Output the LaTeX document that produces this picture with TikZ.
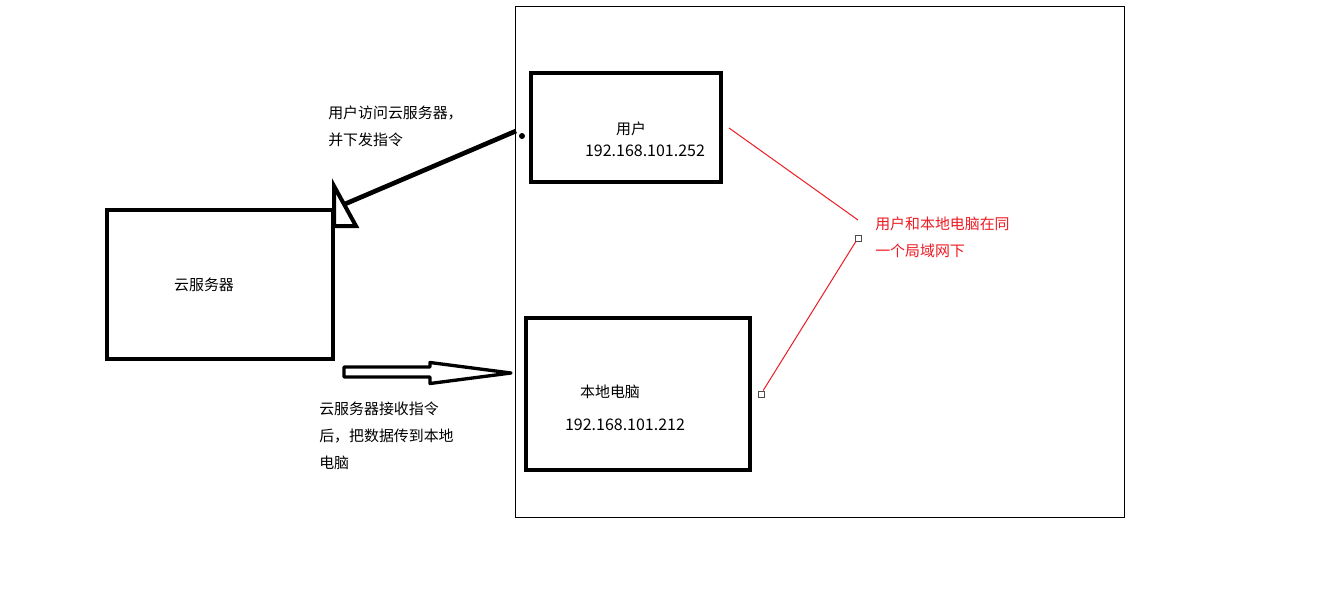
\documentclass[tikz,border=0pt]{standalone}
\usepackage{fontspec}
\setmainfont{Noto Sans CJK SC}
\definecolor{lred}{RGB}{237,28,36}
\begin{document}
\begin{tikzpicture}[x=0.75pt,y=-0.75pt,
  thickbox/.style={draw=black,line width=3pt},
  lbl/.style={inner sep=0pt,font=\fontsize{11.2pt}{20.25pt}\selectfont},
  ip/.style={inner sep=0pt,font=\fontsize{12pt}{14pt}\selectfont},
  redline/.style={draw=lred,line width=0.75pt},
  handle/.style={draw=black!70,fill=white,line width=0.75pt,minimum size=4.5pt,inner sep=0pt}]
\useasboundingbox[fill=white] (0,0) rectangle (1321,593);
% outer frame
\draw[line width=0.75pt] (515,6) rectangle (1124,517);
% boxes
\node[thickbox,minimum width=190*0.75pt,minimum height=109*0.75pt,inner sep=0pt] (user) at (626,127.5) {};
\node[thickbox,minimum width=226*0.75pt,minimum height=149*0.75pt,inner sep=0pt] (cloud) at (220,284.5) {};
\node[thickbox,minimum width=224*0.75pt,minimum height=152*0.75pt,inner sep=0pt] (local) at (638,394) {};
% texts in boxes
\node[lbl] (userT) at (631,129) {用户};
\node[ip] (userIP) at (645,151) {192.168.101.252};
\node[lbl] (cloudT) at (204,285) {云服务器};
\node[lbl] (localT) at (610,392) {本地电脑};
\node[ip] (localIP) at (625,425) {192.168.101.212};
% side texts
\node[lbl,align=left,anchor=west] (t1) at (328,126.5) {用户访问云服务器，\\并下发指令};
\node[lbl,align=left,anchor=west] (t2) at (319,435.5) {云服务器接收指令\\后，把数据传到本地\\电脑};
\node[lbl,align=left,anchor=west,text=lred] (t3) at (875,237.5) {用户和本地电脑在同\\一个局域网下};
% arrow from user to cloud
\coordinate (a1s) at (516,131);
\coordinate (a1e) at (345,204);
\draw[line width=3.5pt] (a1s) -- (a1e);
\fill (522,136) circle (3);
\draw[line width=3pt,line join=miter] (334,186) -- (356,226) -- (334,226) -- cycle;
% hollow arrow from cloud to local
\draw[line width=2.5pt,line join=round] (344,367) -- (430,367) -- (430,362.5) -- (511,373) -- (430,383.5) -- (430,377) -- (344,377) -- cycle;
% red lines
\node[handle] (h1) at (858,238) {};
\node[handle] (h2) at (761,394) {};
\coordinate (r1s) at (729,128);
\coordinate (r1e) at (858,220);
\draw[redline] (r1s) -- (r1e);
\draw[redline] (h1) -- (h2);
\end{tikzpicture}
\end{document}
